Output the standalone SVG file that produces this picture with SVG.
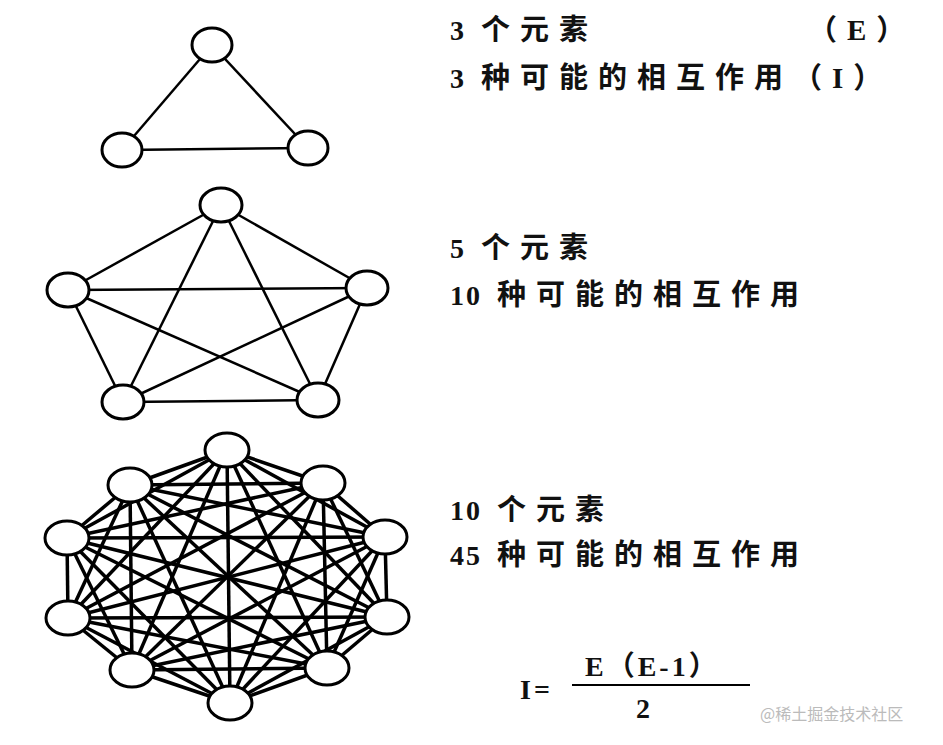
<svg xmlns="http://www.w3.org/2000/svg" width="943" height="745" viewBox="0 0 943 745">
<style>
.n{fill:#fff;stroke:#000;stroke-width:3}
.e line{stroke:#000;stroke-width:2.5}
.e2 line{stroke:#000;stroke-width:3.5}
.t{font-family:"Liberation Serif","Noto Sans CJK SC",serif;font-size:28px;font-weight:bold;fill:#111;letter-spacing:2px}
.c{font-size:29px;letter-spacing:10px}
.f{font-family:"Liberation Serif","Noto Sans CJK SC",serif;font-size:28px;font-weight:bold;fill:#111;letter-spacing:3px}
</style>
<rect width="943" height="745" fill="#fff"/>
<g id="connectors">
<g class="e">
<line x1="212" y1="45" x2="122" y2="150"/><line x1="212" y1="45" x2="308" y2="148"/><line x1="122" y1="150" x2="308" y2="148"/>
<line x1="221" y1="205" x2="68" y2="290"/><line x1="221" y1="205" x2="367" y2="288"/><line x1="221" y1="205" x2="123" y2="402"/><line x1="221" y1="205" x2="318" y2="400"/>
<line x1="68" y1="290" x2="367" y2="288"/><line x1="68" y1="290" x2="123" y2="402"/><line x1="68" y1="290" x2="318" y2="400"/>
<line x1="367" y1="288" x2="123" y2="402"/><line x1="367" y1="288" x2="318" y2="400"/><line x1="123" y1="402" x2="318" y2="400"/>
</g>
<g class="e2">
<line x1="227" y1="450" x2="130" y2="485"/><line x1="227" y1="450" x2="323" y2="483"/><line x1="227" y1="450" x2="67" y2="538"/><line x1="227" y1="450" x2="385" y2="537"/><line x1="227" y1="450" x2="68" y2="618"/><line x1="227" y1="450" x2="387" y2="617"/><line x1="227" y1="450" x2="132" y2="670"/><line x1="227" y1="450" x2="327" y2="668"/><line x1="227" y1="450" x2="230" y2="703"/>
<line x1="130" y1="485" x2="323" y2="483"/><line x1="130" y1="485" x2="67" y2="538"/><line x1="130" y1="485" x2="385" y2="537"/><line x1="130" y1="485" x2="68" y2="618"/><line x1="130" y1="485" x2="387" y2="617"/><line x1="130" y1="485" x2="132" y2="670"/><line x1="130" y1="485" x2="327" y2="668"/><line x1="130" y1="485" x2="230" y2="703"/>
<line x1="323" y1="483" x2="67" y2="538"/><line x1="323" y1="483" x2="385" y2="537"/><line x1="323" y1="483" x2="68" y2="618"/><line x1="323" y1="483" x2="387" y2="617"/><line x1="323" y1="483" x2="132" y2="670"/><line x1="323" y1="483" x2="327" y2="668"/><line x1="323" y1="483" x2="230" y2="703"/>
<line x1="67" y1="538" x2="385" y2="537"/><line x1="67" y1="538" x2="68" y2="618"/><line x1="67" y1="538" x2="387" y2="617"/><line x1="67" y1="538" x2="132" y2="670"/><line x1="67" y1="538" x2="327" y2="668"/><line x1="67" y1="538" x2="230" y2="703"/>
<line x1="385" y1="537" x2="68" y2="618"/><line x1="385" y1="537" x2="387" y2="617"/><line x1="385" y1="537" x2="132" y2="670"/><line x1="385" y1="537" x2="327" y2="668"/><line x1="385" y1="537" x2="230" y2="703"/>
<line x1="68" y1="618" x2="387" y2="617"/><line x1="68" y1="618" x2="132" y2="670"/><line x1="68" y1="618" x2="327" y2="668"/><line x1="68" y1="618" x2="230" y2="703"/>
<line x1="387" y1="617" x2="132" y2="670"/><line x1="387" y1="617" x2="327" y2="668"/><line x1="387" y1="617" x2="230" y2="703"/>
<line x1="132" y1="670" x2="327" y2="668"/><line x1="132" y1="670" x2="230" y2="703"/>
<line x1="327" y1="668" x2="230" y2="703"/>
</g>
</g>
<g id="triangle">
<ellipse id="t1" class="n" cx="212" cy="45" rx="20" ry="17"/>
<ellipse id="t2" class="n" cx="122" cy="150" rx="20" ry="17"/>
<ellipse id="t3" class="n" cx="308" cy="148" rx="20" ry="17"/>
</g>
<g id="pentagon">
<ellipse id="p1" class="n" cx="221" cy="205" rx="21" ry="17"/>
<ellipse id="p2" class="n" cx="68" cy="290" rx="21" ry="17"/>
<ellipse id="p3" class="n" cx="367" cy="288" rx="21" ry="17"/>
<ellipse id="p4" class="n" cx="123" cy="402" rx="21" ry="17"/>
<ellipse id="p5" class="n" cx="318" cy="400" rx="21" ry="17"/>
</g>
<g id="decagon">
<ellipse id="d1" class="n" cx="227" cy="450" rx="22" ry="17"/>
<ellipse id="d2" class="n" cx="130" cy="485" rx="22" ry="17"/>
<ellipse id="d3" class="n" cx="323" cy="483" rx="22" ry="17"/>
<ellipse id="d4" class="n" cx="67" cy="538" rx="22" ry="17"/>
<ellipse id="d5" class="n" cx="385" cy="537" rx="22" ry="17"/>
<ellipse id="d6" class="n" cx="68" cy="618" rx="22" ry="17"/>
<ellipse id="d7" class="n" cx="387" cy="617" rx="22" ry="17"/>
<ellipse id="d8" class="n" cx="132" cy="670" rx="22" ry="17"/>
<ellipse id="d9" class="n" cx="327" cy="668" rx="22" ry="17"/>
<ellipse id="d10" class="n" cx="230" cy="703" rx="22" ry="17"/>
</g>
<g id="labels">
<text class="t" x="450" y="40">3 <tspan class="c" dx="6">个元素</tspan></text>
<text class="t" x="808" y="40"><tspan class="c">（E）</tspan></text>
<text class="t" x="450" y="88">3 <tspan class="c" dx="6">种可能的相互作用（I）</tspan></text>
<text class="t" x="450" y="258">5 <tspan class="c" dx="6">个元素</tspan></text>
<text class="t" x="450" y="305">10 <tspan class="c" dx="6">种可能的相互作用</tspan></text>
<text class="t" x="450" y="520">10 <tspan class="c" dx="6">个元素</tspan></text>
<text class="t" x="450" y="565">45 <tspan class="c" dx="6">种可能的相互作用</tspan></text>
<text class="f" x="520" y="699">I=</text>
<line x1="572" y1="685" x2="750" y2="685" stroke="#000" stroke-width="2"/>
<text class="f" x="585" y="676">E（E-1）</text>
<text class="f" x="636" y="718">2</text>
<text x="760" y="720" font-family="'Noto Sans CJK SC',sans-serif" font-size="16" fill="#bbb">@稀土掘金技术社区</text>
</g>
</svg>
